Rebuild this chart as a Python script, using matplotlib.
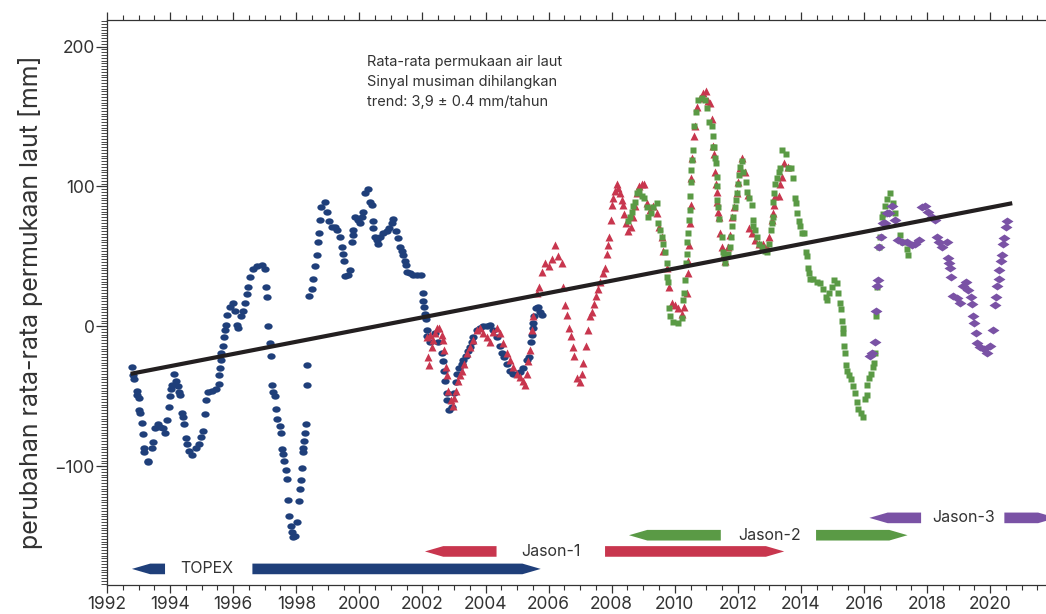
import numpy as np
import matplotlib.pyplot as plt
from matplotlib.patches import Polygon
from matplotlib.markers import MarkerStyle
from matplotlib.transforms import Affine2D
from matplotlib.ticker import MultipleLocator

plt.rcParams['font.family'] = ['Inter', 'DejaVu Sans']

# sea level change [mm]
topex_yr = [1992.78, 1992.81, 1992.86, 1992.94, 1992.96, 1993.02, 1993.03, 1993.05, 1993.10, 1993.13,
            1993.17, 1993.18, 1993.29, 1993.31, 1993.42, 1993.47, 1993.52, 1993.63, 1993.68, 1993.76,
            1993.84, 1993.91, 1993.97, 1994.00, 1994.04, 1994.06, 1994.12, 1994.18, 1994.25, 1994.29,
            1994.33, 1994.37, 1994.42, 1994.44, 1994.50, 1994.55, 1994.61, 1994.71, 1994.82, 1994.92,
            1994.99, 1995.03, 1995.10, 1995.14, 1995.21, 1995.32, 1995.46, 1995.54, 1995.56, 1995.58,
            1995.60, 1995.63, 1995.67, 1995.71, 1995.75, 1995.77, 1995.81, 1995.90, 1995.98, 1996.06,
            1996.11, 1996.16, 1996.24, 1996.30, 1996.38, 1996.43, 1996.48, 1996.53, 1996.64, 1996.74,
            1996.90, 1997.00, 1997.04, 1997.06, 1997.11, 1997.17, 1997.19, 1997.22, 1997.27, 1997.32,
            1997.35, 1997.40, 1997.48, 1997.51, 1997.54, 1997.57, 1997.61, 1997.68, 1997.72, 1997.75,
            1997.78, 1997.83, 1997.86, 1997.91, 1997.96, 1998.03, 1998.10, 1998.12, 1998.15, 1998.17,
            1998.20, 1998.22, 1998.25, 1998.28, 1998.30, 1998.33, 1998.35, 1998.41, 1998.49, 1998.54,
            1998.59, 1998.67, 1998.70, 1998.73, 1998.75, 1998.80, 1998.91, 1998.98, 1999.05, 1999.12,
            1999.23, 1999.30, 1999.39, 1999.44, 1999.47, 1999.51, 1999.55, 1999.65, 1999.70, 1999.76,
            1999.79, 1999.81, 1999.86, 1999.97, 2000.02, 2000.07, 2000.13, 2000.18, 2000.28, 2000.34,
            2000.39, 2000.42, 2000.44, 2000.50, 2000.55, 2000.60, 2000.66, 2000.76, 2000.87, 2000.95,
            2001.03, 2001.08, 2001.16, 2001.24, 2001.29, 2001.34, 2001.39, 2001.45, 2001.48, 2001.52,
            2001.61, 2001.71, 2001.82, 2001.94, 2002.01, 2002.03, 2002.05, 2002.08, 2002.11, 2002.14,
            2002.16, 2002.24, 2002.40, 2002.50, 2002.61, 2002.64, 2002.68, 2002.72, 2002.77, 2002.79,
            2002.85, 2002.93, 2003.00, 2003.07, 2003.11, 2003.17, 2003.24, 2003.30, 2003.38, 2003.45,
            2003.51, 2003.56, 2003.61, 2003.72, 2003.83, 2003.93, 2004.04, 2004.14, 2004.25, 2004.35,
            2004.46, 2004.51, 2004.59, 2004.67, 2004.78, 2004.88, 2004.99, 2005.09, 2005.20, 2005.31,
            2005.39, 2005.43, 2005.46, 2005.50, 2005.51, 2005.54, 2005.60, 2005.67, 2005.73, 2005.78]
topex_mm = [-29, -35, -38, -46, -49, -51, -60, -62, -69, -77,
            -87, -90, -96, -97, -87, -83, -73, -70, -72, -73,
            -76, -67, -58, -50, -45, -42, -34, -39, -43, -47,
            -49, -62, -65, -70, -80, -84, -89, -92, -87, -84,
            -79, -75, -63, -53, -47, -46, -45, -41, -35, -30,
            -24, -19, -14, -8, -3, 1, 8, 14, 17, 11,
            1, -1, 7, 11, 17, 23, 28, 35, 41, 43,
            44, 41, 28, 21, 0, -12, -21, -42, -47, -50,
            -59, -66, -71, -76, -88, -91, -96, -103, -109, -124,
            -136, -143, -147, -151, -150, -140, -125, -116, -110, -101,
            -90, -87, -82, -76, -70, -42, -28, 22, 27, 34,
            43, 51, 60, 67, 76, 85, 89, 82, 75, 71,
            71, 69, 64, 57, 52, 47, 36, 37, 40, 60,
            65, 69, 78, 76, 74, 78, 82, 95, 98, 89,
            87, 75, 70, 64, 62, 59, 64, 67, 68, 70,
            74, 77, 68, 63, 57, 54, 51, 47, 44, 39,
            38, 37, 37, 37, 24, 18, 14, 9, 5, -3,
            -7, -11, -5, -11, -19, -25, -32, -39, -48, -53,
            -60, -58, -48, -40, -34, -30, -27, -24, -21, -18,
            -15, -11, -8, -3, -1, 0, 0, 1, -3, -8,
            -14, -19, -22, -27, -32, -34, -34, -33, -30, -24,
            -22, -11, -6, -1, 2, 7, 13, 14, 10, 8]

jason1_yr = [2002.14, 2002.19, 2002.20, 2002.24, 2002.29, 2002.35, 2002.40, 2002.47, 2002.53, 2002.61,
             2002.64, 2002.68, 2002.75, 2002.77, 2002.82, 2002.90, 2002.96, 2003.00, 2003.07, 2003.14,
             2003.19, 2003.24, 2003.32, 2003.40, 2003.51, 2003.61, 2003.72, 2003.83, 2003.93, 2004.04,
             2004.14, 2004.25, 2004.35, 2004.46, 2004.56, 2004.67, 2004.78, 2004.88, 2004.99, 2005.09,
             2005.20, 2005.25, 2005.31, 2005.36, 2005.41, 2005.46, 2005.51, 2005.62, 2005.70, 2005.78,
             2005.88, 2006.02, 2006.10, 2006.20, 2006.31, 2006.42, 2006.47, 2006.52, 2006.58, 2006.66,
             2006.70, 2006.77, 2006.82, 2006.91, 2007.00, 2007.06, 2007.10, 2007.19, 2007.26, 2007.31,
             2007.37, 2007.44, 2007.50, 2007.58, 2007.63, 2007.71, 2007.79, 2007.84, 2007.87, 2007.92,
             2007.97, 2008.00, 2008.05, 2008.11, 2008.16, 2008.21, 2008.26, 2008.32, 2008.35, 2008.39,
             2008.46, 2008.53, 2008.60, 2008.69, 2008.74, 2008.80, 2008.88, 2008.95, 2009.03, 2009.11,
             2009.22, 2009.32, 2009.43, 2009.51, 2009.59, 2009.64, 2009.74, 2009.83, 2009.90, 2010.01,
             2010.11, 2010.22, 2010.29, 2010.38, 2010.41, 2010.43, 2010.46, 2010.48, 2010.50, 2010.53,
             2010.56, 2010.61, 2010.64, 2010.69, 2010.80, 2010.90, 2010.99, 2011.06, 2011.12, 2011.17,
             2011.22, 2011.24, 2011.27, 2011.31, 2011.33, 2011.35, 2011.38, 2011.41, 2011.43, 2011.49,
             2011.52, 2011.59, 2011.70, 2011.75, 2011.81, 2011.88, 2011.96, 2012.01, 2012.07, 2012.14,
             2012.22, 2012.33, 2012.36, 2012.44, 2012.55, 2012.68, 2012.81, 2012.92, 2013.00, 2013.08,
             2013.13, 2013.15, 2013.18, 2013.29, 2013.34, 2013.39, 2013.46, 2013.60]
jason1_mm = [-8, -22, -28, -6, -15, -10, -5, -1, -1, -6,
             -10, -17, -29, -35, -46, -53, -57, -51, -46, -39,
             -35, -32, -27, -19, -15, -10, -3, -1, -5, -8,
             -11, -4, -1, -5, -12, -19, -24, -29, -34, -36,
             -39, -42, -34, -25, -17, -3, 7, 24, 28, 39,
             45, 43, 48, 58, 50, 45, 28, 15, 8, -1,
             -7, -15, -21, -37, -40, -34, -26, -14, -3, 7,
             10, 16, 22, 27, 32, 38, 42, 52, 58, 64,
             76, 87, 92, 97, 102, 99, 95, 90, 87, 80,
             74, 68, 71, 78, 86, 95, 100, 102, 102, 88,
             83, 86, 81, 71, 64, 54, 42, 28, 17, 15,
             13, 9, 14, 24, 38, 47, 58, 74, 87, 106,
             120, 136, 143, 157, 163, 167, 168, 161, 160, 148,
             129, 123, 110, 102, 96, 89, 82, 78, 67, 57,
             50, 47, 57, 65, 78, 85, 95, 103, 113, 120,
             110, 94, 70, 67, 62, 59, 59, 57, 64, 76,
             81, 87, 93, 93, 102, 107, 117, 114]

jason2_yr = [2008.53, 2008.58, 2008.64, 2008.69, 2008.74, 2008.80, 2008.88, 2008.95, 2009.03, 2009.11,
             2009.16, 2009.24, 2009.32, 2009.43, 2009.48, 2009.54, 2009.59, 2009.64, 2009.69, 2009.74,
             2009.76, 2009.80, 2009.82, 2009.85, 2009.95, 2010.11, 2010.22, 2010.27, 2010.29, 2010.32,
             2010.35, 2010.38, 2010.40, 2010.43, 2010.45, 2010.47, 2010.48, 2010.50, 2010.53, 2010.56,
             2010.58, 2010.61, 2010.67, 2010.75, 2010.85, 2010.96, 2011.03, 2011.09, 2011.17, 2011.20,
             2011.22, 2011.24, 2011.27, 2011.31, 2011.33, 2011.34, 2011.35, 2011.38, 2011.41, 2011.49,
             2011.52, 2011.56, 2011.59, 2011.70, 2011.75, 2011.77, 2011.81, 2011.86, 2011.91, 2011.94,
             2011.96, 2012.01, 2012.04, 2012.08, 2012.12, 2012.17, 2012.26, 2012.30, 2012.36, 2012.44,
             2012.47, 2012.49, 2012.55, 2012.60, 2012.68, 2012.76, 2012.86, 2012.93, 2013.00, 2013.04,
             2013.08, 2013.11, 2013.13, 2013.16, 2013.18, 2013.23, 2013.29, 2013.34, 2013.39, 2013.53,
             2013.60, 2013.68, 2013.76, 2013.82, 2013.85, 2013.89, 2013.93, 2013.98, 2014.04, 2014.11,
             2014.17, 2014.20, 2014.24, 2014.26, 2014.29, 2014.39, 2014.50, 2014.61, 2014.71, 2014.80,
             2014.84, 2014.90, 2014.98, 2015.05, 2015.13, 2015.18, 2015.24, 2015.26, 2015.29, 2015.32,
             2015.34, 2015.37, 2015.40, 2015.43, 2015.47, 2015.53, 2015.58, 2015.64, 2015.71, 2015.77,
             2015.82, 2015.89, 2015.96, 2016.03, 2016.08, 2016.11, 2016.17, 2016.21, 2016.28, 2016.32,
             2016.35, 2016.38, 2016.40, 2016.46, 2016.51, 2016.56, 2016.59, 2016.67, 2016.74, 2016.83,
             2016.91, 2016.99, 2017.15, 2017.25, 2017.36, 2017.38]
jason2_mm = [75, 78, 82, 86, 89, 95, 97, 93, 92, 85,
             78, 81, 85, 88, 74, 69, 64, 59, 53, 45,
             35, 32, 13, 7, 3, 2, 6, 19, 24, 33,
             45, 52, 60, 67, 76, 83, 93, 103, 112, 119,
             126, 143, 153, 162, 163, 162, 156, 146, 143, 136,
             128, 128, 120, 117, 107, 100, 90, 85, 77, 64,
             53, 50, 45, 52, 57, 64, 72, 78, 85, 90,
             95, 102, 108, 114, 118, 110, 103, 96, 92, 87,
             76, 72, 69, 64, 59, 57, 54, 53, 59, 69,
             74, 78, 89, 95, 102, 106, 110, 113, 126, 123,
             113, 113, 106, 92, 88, 81, 75, 72, 67, 67,
             53, 50, 42, 38, 34, 34, 32, 31, 27, 21,
             19, 24, 28, 33, 31, 24, 17, 12, 4, -1,
             -5, -14, -19, -28, -32, -35, -38, -43, -48, -54,
             -59, -62, -65, -52, -49, -42, -37, -34, -29, -26,
             -19, 7, 28, 57, 64, 78, 80, 86, 91, 95,
             88, 81, 65, 60, 55, 51]

jason3_yr = [2016.20, 2016.24, 2016.35, 2016.38, 2016.42, 2016.43, 2016.48, 2016.53, 2016.61, 2016.67,
             2016.72, 2016.78, 2016.88, 2016.99, 2017.09, 2017.20, 2017.36, 2017.52, 2017.62, 2017.73,
             2017.83, 2017.94, 2018.04, 2018.15, 2018.25, 2018.31, 2018.39, 2018.46, 2018.62, 2018.67,
             2018.71, 2018.73, 2018.75, 2018.83, 2018.94, 2019.04, 2019.15, 2019.24, 2019.31, 2019.39,
             2019.42, 2019.45, 2019.49, 2019.54, 2019.58, 2019.68, 2019.79, 2019.90, 2020.00, 2020.08,
             2020.16, 2020.19, 2020.23, 2020.27, 2020.29, 2020.34, 2020.37, 2020.42, 2020.44, 2020.51,
             2020.54]
jason3_mm = [-21, -19, -11, 11, 29, 33, 57, 64, 74, 74,
             81, 81, 86, 76, 62, 60, 60, 58, 59, 62,
             85, 86, 82, 78, 76, 64, 60, 57, 60, 49,
             45, 42, 35, 22, 20, 17, 29, 32, 26, 21,
             16, 7, 2, -5, -12, -15, -16, -19, -14, -3,
             15, 21, 29, 34, 40, 47, 51, 59, 63, 71,
             75]

trend_yr = [1992.75, 2020.7]
trend_mm = [-34, 88]

# mission bars: left piece (arrow pointing back), label, right piece (arrow pointing forward)
missions = ['TOPEX', 'Jason-1', 'Jason-2', 'Jason-3']
mission_y = [-173.5, -161, -149.4, -137]
mission_left = [(1992.79, 1993.84), (2002.08, 2004.35), (2008.55, 2011.46), (2016.17, 2017.81)]
mission_label_x = [1995.16, 2006.08, 2013.0, 2019.15]
mission_right = [(1996.61, 2005.75), (2007.79, 2013.47), (2014.48, 2017.38), (2020.45, 2022.1)]

colors = ['#1f3f7a', '#c8364e', '#5a9a45', '#7a52a5']

fig = plt.figure(figsize=(10.46, 6.14), dpi=100)
ax = fig.add_axes([107 / 1046, 29 / 614, 939 / 1046, 565 / 614])

dot = MarkerStyle('o', transform=Affine2D().scale(1.3, 1.0))
diamond = MarkerStyle('D', transform=Affine2D().scale(1.35, 0.85))
ax.plot(topex_yr, topex_mm, ls='none', marker=dot, color=colors[0], ms=4.6, mec='none')
ax.plot(jason1_yr, jason1_mm, '^', color=colors[1], ms=6.0, mec='none')
ax.plot(jason2_yr, jason2_mm, 's', color=colors[2], ms=4.3, mec='none')
ax.plot(jason3_yr, jason3_mm, ls='none', marker=diamond, color=colors[3], ms=4.4, mec='none')
ax.plot(trend_yr, trend_mm, color='#231f20', lw=3.0, solid_capstyle='butt')

head = 0.58  # arrow head length in years
half = 3.8   # half bar height in mm
for name, y, lp, lx, rp, c in zip(missions, mission_y, mission_left, mission_label_x, mission_right, colors):
    x0, x1 = lp
    ax.add_patch(Polygon([[x0, y], [x0 + head, y + half], [x1, y + half], [x1, y - half], [x0 + head, y - half]],
                         closed=True, color=c, lw=0))
    x0, x1 = rp
    ax.add_patch(Polygon([[x0, y + half], [x1 - head, y + half], [x1, y], [x1 - head, y - half], [x0, y - half]],
                         closed=True, color=c, lw=0))
    ax.text(lx, y, name, ha='center', va='center', fontsize=11.5, color='#333333')

ax.text(2000.25, 194, 'Rata-rata permukaan air laut\nSinyal musiman dihilangkan\ntrend: 3,9 ± 0.4 mm/tahun',
        ha='left', va='top', fontsize=10.5, color='#333333', linespacing=1.55)

ax.set_xlim(1992, 2021.77)
ax.set_ylim(-185, 219)
ax.xaxis.set_major_locator(MultipleLocator(2))
ax.xaxis.set_minor_locator(MultipleLocator(0.5))
ax.yaxis.set_major_locator(MultipleLocator(100))
ax.yaxis.set_minor_locator(MultipleLocator(2))
ax.tick_params(axis='x', which='both', top=True, direction='out', labelsize=12.5, colors='#333333', pad=2)
ax.tick_params(axis='x', which='major', length=6, width=0.9)
ax.tick_params(axis='x', which='minor', length=3.5, width=0.8)
ax.tick_params(axis='y', which='major', length=8, width=0.9, labelsize=12.5, colors='#333333', pad=1)
ax.tick_params(axis='y', which='minor', length=4, width=0.5)
ax.spines['right'].set_visible(False)
for s in ['left', 'bottom', 'top']:
    ax.spines[s].set_linewidth(0.9)
    ax.spines[s].set_color('#333333')

ax.set_ylabel('perubahan rata-rata permukaan laut [mm]', fontsize=18, color='#333333', labelpad=8)

fig.savefig('out.png', dpi=100)
